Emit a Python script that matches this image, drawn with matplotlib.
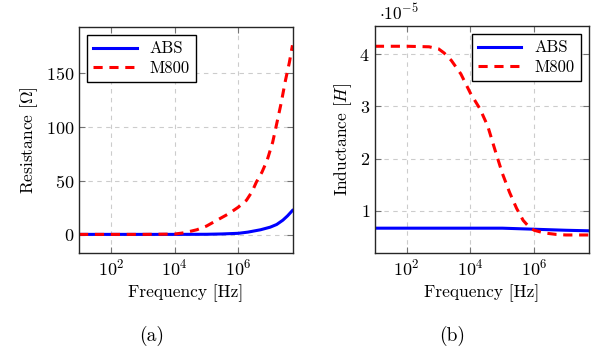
import matplotlib
matplotlib.use('Agg')
import matplotlib.pyplot as plt

plt.rcParams['font.family'] = 'serif'
plt.rcParams['font.serif'] = ['cmr10', 'DejaVu Serif']
plt.rcParams['mathtext.fontset'] = 'cm'
plt.rcParams['axes.formatter.use_mathtext'] = True
plt.rcParams['font.size'] = 12.5
plt.rcParams['xtick.labelsize'] = 13
plt.rcParams['ytick.labelsize'] = 13

# Resistance data (Ohm)
freq_r_abs = [1e1, 1e2, 1e3, 1e4, 1e5, 3e5, 1e6, 2e6, 5e6, 1e7, 1.6e7, 2.5e7, 3.5e7, 5e7]
res_abs = [0.3, 0.3, 0.3, 0.3, 0.4, 0.7, 1.3, 2.4, 4.6, 7.0, 9.5, 13.5, 17.5, 22.5]
freq_r_m800 = [1e1, 1e2, 1e3, 1e4, 2e4, 5e4, 1e5, 2e5, 5e5, 1e6, 1.8e6, 2.7e6, 3.7e6,
               5.5e6, 8e6, 1.2e7, 1.6e7, 2.2e7, 3e7, 4e7, 5e7]
res_m800 = [0.3, 0.3, 0.3, 0.6, 1.8, 4.6, 8.0, 13.0, 19.5, 25.6, 32.0, 40.0, 49.0,
            58.0, 69.0, 86.0, 103.0, 122.0, 143.0, 160.0, 176.0]

# Inductance data (x 1e-5 H)
freq_l_abs = [1e1, 1e3, 1e5, 1e6, 1e7, 5e7]
ind_abs = [0.67, 0.67, 0.67, 0.65, 0.63, 0.62]
freq_l_m800 = [1e1, 1e2, 5e2, 1e3, 1.5e3, 2.5e3, 5e3, 1e4, 2e4, 3.5e4, 6e4, 1e5,
               1.7e5, 2.8e5, 4.5e5, 7e5, 1e6, 2e6, 5e6, 1e7, 5e7]
ind_m800 = [4.15, 4.15, 4.14, 4.10, 4.02, 3.88, 3.62, 3.25, 2.95, 2.62, 2.15, 1.72,
            1.35, 1.05, 0.82, 0.69, 0.63, 0.58, 0.55, 0.54, 0.54]

blue = '#0000ff'
red = '#ff0000'


def style_axes(ax):
    ax.set_xscale('log')
    ax.set_xlim(1e1, 5.2e7)
    ax.set_xticks([1e2, 1e4, 1e6])
    ax.minorticks_off()
    ax.grid(True, linestyle=(0, (4, 4)), color='0.8', linewidth=0.8)
    ax.tick_params(direction='in', top=True, right=True, length=4, color='0.45', width=0.8)
    for s in ax.spines.values():
        s.set_color('0.15')
        s.set_linewidth(1.0)
    ax.set_xlabel('Frequency [Hz]')


fig = plt.figure(figsize=(5.96, 3.56), dpi=100)
ax1 = fig.add_axes([0.1326, 0.2893, 0.359, 0.635])
ax2 = fig.add_axes([0.629, 0.2893, 0.359, 0.638])

ax1.plot(freq_r_abs, res_abs, color=blue, lw=2.2, label='ABS')
ax1.plot(freq_r_m800, res_m800, color=red, lw=2.2, dashes=(3, 2.2), label='M800')
style_axes(ax1)
ax1.set_ylim(-17, 193)
ax1.set_yticks([0, 50, 100, 150])
ax1.set_ylabel(r'Resistance [$\Omega$]')
ax1.legend(loc='upper left', fancybox=False, edgecolor='black', framealpha=1,
           fontsize=12, handlelength=2.6, borderpad=0.35, labelspacing=0.25,
           borderaxespad=0.5)

ax2.plot(freq_l_abs, ind_abs, color=blue, lw=2.2, label='ABS')
ax2.plot(freq_l_m800, ind_m800, color=red, lw=2.2, dashes=(3, 2.2), label='M800')
style_axes(ax2)
ax2.set_ylim(0.195, 4.54)
ax2.set_yticks([1, 2, 3, 4])
ax2.set_ylabel(r'Inductance [$H$]')
ax2.text(0.02, 1.015, r'$\cdot 10^{-5}$', transform=ax2.transAxes, ha='left', va='bottom',
         fontsize=12.5)
ax2.legend(loc='upper right', fancybox=False, edgecolor='black', framealpha=1,
           fontsize=12, handlelength=2.6, borderpad=0.35, labelspacing=0.25,
           borderaxespad=0.5)

fig.text(0.255, 0.055, '(a)', ha='center', va='center', fontsize=14)
fig.text(0.758, 0.055, '(b)', ha='center', va='center', fontsize=14)

fig.savefig('out.png', dpi=100)
